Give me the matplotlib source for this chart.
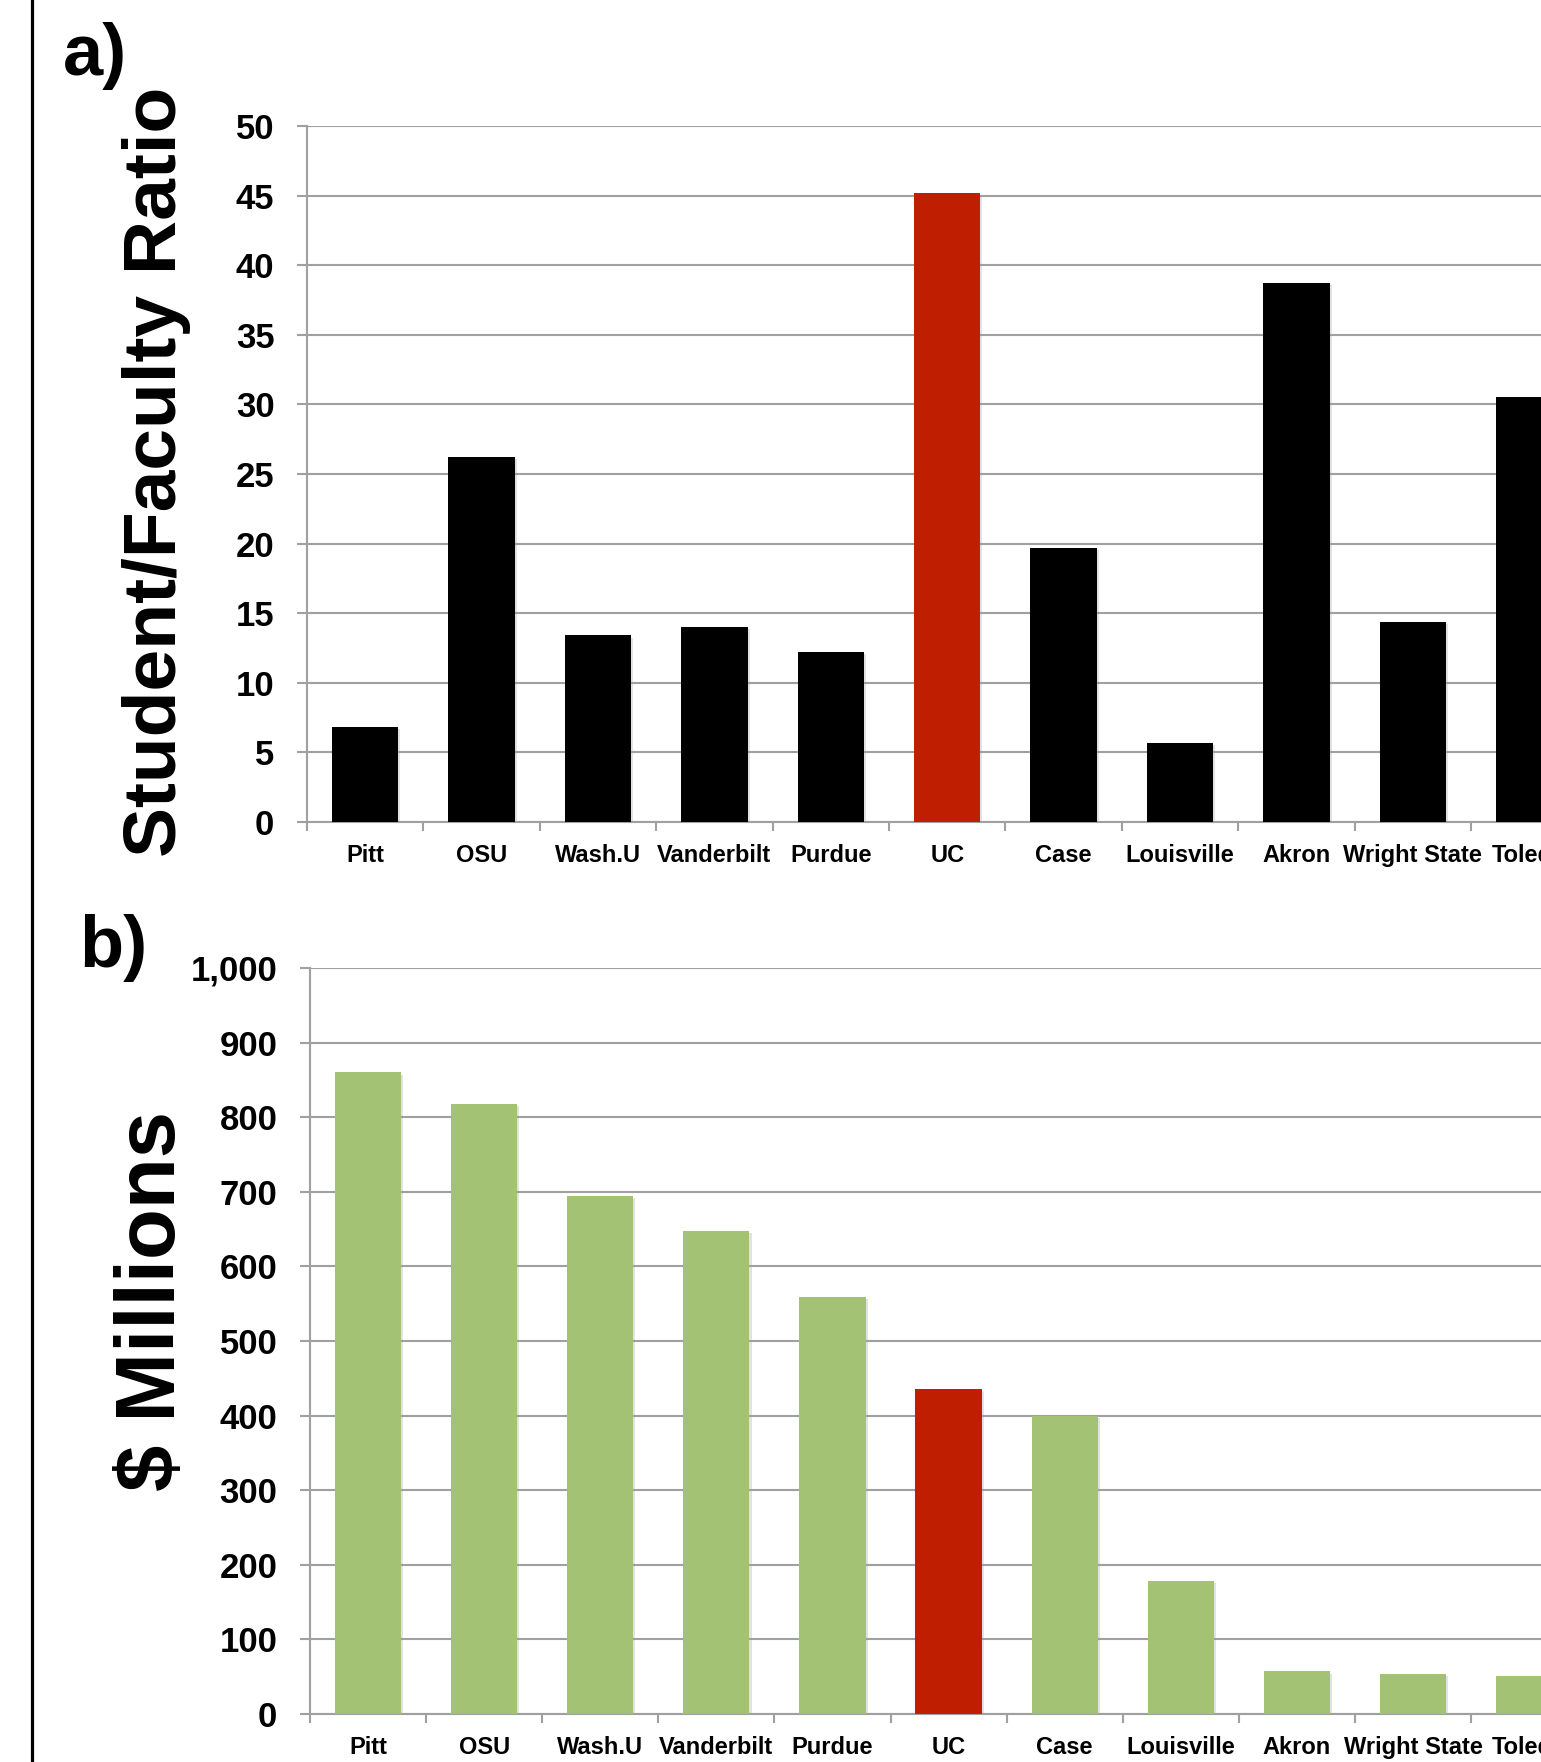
import numpy as np
import matplotlib
matplotlib.use('Agg')
import matplotlib.pyplot as plt
import matplotlib.patheffects as pe
from matplotlib.ticker import FuncFormatter
from matplotlib.lines import Line2D

plt.rcParams['font.family'] = ['Liberation Sans', 'DejaVu Sans']
plt.rcParams['font.weight'] = 'bold'

schools = ['Pitt', 'OSU', 'Wash.U', 'Vanderbilt', 'Purdue', 'UC', 'Case',
           'Louisville', 'Akron', 'Wright State', 'Toledo']
ratio = [6.8, 26.2, 13.4, 14.0, 12.2, 45.2, 19.7, 5.7, 38.7, 14.4, 30.5]
millions = [860, 818, 694, 648, 559, 435, 399, 178, 57, 54, 51]
highlight = 'UC'

RED = '#C01E00'
GREEN = '#A3C274'
GRID = '#A0A0A0'

W, H = 1541, 1762
fig = plt.figure(figsize=(W / 100, H / 100), dpi=100)

def px(x0, y0, x1, y1):
    # pixel box (top-left origin) -> figure fraction rect
    return [x0 / W, 1 - y1 / H, (x1 - x0) / W, (y1 - y0) / H]

ax1 = fig.add_axes(px(307, 126, 307 + 11 * 116.4, 822))
ax2 = fig.add_axes(px(310, 968, 310 + 11 * 116.1, 1714))

shadow = [pe.SimplePatchShadow(offset=(1.5, -1.5), shadow_rgbFace='#a0a0a0', alpha=0.3), pe.Normal()]

def style(ax, vals, base_color, ymax, step):
    x = np.arange(len(schools))
    colors = [RED if s == highlight else base_color for s in schools]
    bars = ax.bar(x, vals, width=0.57, color=colors, zorder=3)
    for b in bars:
        b.set_path_effects(shadow)
    ax.set_xlim(-0.5, len(schools) - 0.5)
    ax.set_ylim(0, ymax)
    ax.set_yticks(np.arange(0, ymax + step / 2, step))
    ax.set_axisbelow(True)
    ax.yaxis.grid(True, color=GRID, linewidth=1.5)
    for side in ['top', 'right']:
        ax.spines[side].set_visible(False)
    for side in ['left', 'bottom']:
        ax.spines[side].set_color(GRID)
        ax.spines[side].set_linewidth(1.5)
    ax.set_xticks(x)
    ax.set_xticklabels(schools, fontsize=17, fontweight='bold')
    ax.set_xticks(np.arange(len(schools) + 1) - 0.5, minor=True)
    ax.tick_params(axis='x', which='major', length=0, pad=15.5)
    ax.tick_params(axis='x', which='minor', length=6.5, width=1.5, color=GRID)
    ax.tick_params(axis='y', length=7.5, width=1.5, color=GRID, pad=16,
                   labelsize=25)
    for lab in ax.get_yticklabels():
        lab.set_fontweight('bold')

style(ax1, ratio, 'black', 50, 5)
style(ax2, millions, GREEN, 1000, 100)
ax2.yaxis.set_major_formatter(FuncFormatter(lambda v, p: f'{int(v):,}'))
for lab in ax2.get_yticklabels():
    lab.set_fontweight('bold')

fig.text(176 / W, 1 - 472 / H, 'Student/Faculty Ratio', rotation=90,
         rotation_mode='anchor', ha='center', va='baseline', fontsize=54,
         fontweight='bold')
fig.text(175 / W, 1 - 1301 / H, '$ Millions', rotation=90,
         rotation_mode='anchor', ha='center', va='baseline', fontsize=60,
         fontweight='bold')

fig.text(63 / W, 1 - 75 / H, 'a)', ha='left', va='baseline', fontsize=52,
         fontweight='bold')
fig.text(79 / W, 1 - 967 / H, 'b)', ha='left', va='baseline', fontsize=52,
         fontweight='bold')

fig.add_artist(Line2D([32 / W, 32 / W], [0, 1], color='black', linewidth=2.3,
                      transform=fig.transFigure))

fig.savefig('out.png', dpi=100)
